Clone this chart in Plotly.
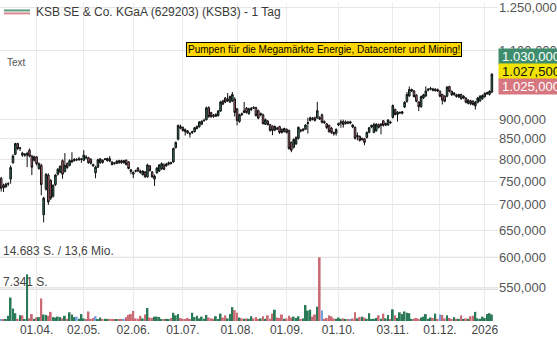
import numpy as np
import pandas as pd
import plotly.graph_objects as go

# ---------------- data ----------------
holidays = ["2025-04-18", "2025-04-21", "2025-05-01", "2025-12-24",
            "2025-12-25", "2025-12-26", "2025-12-31", "2026-01-01"]
dates = pd.bdate_range("2025-03-11", "2026-01-07", freq="C", holidays=holidays)

tick_dates = ["2025-04-01", "2025-05-02", "2025-06-02", "2025-07-01", "2025-08-01",
              "2025-09-01", "2025-10-01", "2025-11-03", "2025-12-01", "2026-01-02"]
tick_labels = ["01.04.", "02.05.", "02.06.", "01.07.", "01.08.",
               "01.09.", "01.10.", "03.11.", "01.12.", "2026"]

price_ticks = [550, 600, 650, 700, 750, 800, 850, 900, 1100, 1250]

open_ = [757, 742, 738, 744, 755, 792, 812, 838, 826, 815,
         810, 810, 822, 808, 798, 806, 779, 786, 680, 733,
         764, 752, 718, 743, 766, 771, 797, 772, 790, 786,
         794, 797, 800, 799, 800, 798, 806, 804, 800, 788,
         769, 782, 792, 798, 800, 797, 802, 794, 792, 791,
         797, 797, 792, 798, 794, 776, 770, 774, 780, 773,
         765, 771, 760, 785, 771, 755, 769, 773, 778, 787,
         785, 789, 792, 794, 828, 849, 881, 879, 873, 870,
         864, 866, 868, 876, 881, 887, 896, 899, 931, 918,
         911, 908, 910, 922, 950, 958, 950, 947, 950, 955,
         928, 894, 915, 918, 930, 915, 926, 932, 931, 923,
         912, 912, 887, 895, 886, 882, 872, 877, 881, 874,
         868, 874, 871, 841, 829, 837, 851, 872, 871, 874,
         889, 897, 903, 904, 904, 904, 912, 894, 888, 884,
         877, 866, 864, 885, 890, 894, 889, 893, 890, 885,
         879, 855, 856, 848, 850, 853, 866, 880, 866, 870,
         886, 884, 896, 885, 885, 893, 905, 926, 913, 917,
         916, 933, 948, 964, 978, 978, 966, 947, 934, 958,
         964, 980, 983, 984, 979, 982, 977, 968, 963, 963,
         991, 977, 968, 967, 961, 968, 958, 958, 943, 950,
         949, 936, 946, 950, 956, 962, 970, 968, 975]

high = [760, 745, 747, 748, 786, 812, 840, 840, 830, 818,
        815, 818, 826, 810, 809, 808, 793, 790, 717, 768,
        768, 755, 744, 766, 780, 786, 800, 815, 793, 800,
        817, 803, 803, 806, 803, 822, 810, 806, 803, 790,
        785, 802, 803, 800, 803, 804, 808, 796, 794, 798,
        799, 799, 799, 800, 796, 778, 772, 776, 782, 776,
        775, 773, 790, 787, 773, 765, 782, 789, 793, 791,
        792, 795, 795, 828, 843, 886, 886, 881, 876, 872,
        866, 870, 880, 884, 895, 897, 902, 934, 935, 920,
        914, 916, 925, 950, 953, 961, 972, 965, 975, 960,
        930, 915, 918, 947, 933, 931, 933, 935, 934, 926,
        918, 915, 902, 898, 888, 884, 884, 880, 883, 876,
        878, 876, 873, 843, 851, 856, 881, 875, 877, 887,
        904, 907, 906, 907, 947, 908, 915, 897, 890, 886,
        880, 868, 876, 891, 899, 899, 897, 896, 896, 887,
        881, 866, 858, 853, 852, 868, 880, 886, 891, 890,
        889, 890, 898, 891, 900, 896, 940, 929, 922, 921,
        922, 949, 975, 991, 985, 981, 969, 949, 965, 970,
        991, 986, 990, 987, 986, 985, 980, 970, 966, 992,
        993, 979, 975, 970, 970, 970, 966, 960, 955, 953,
        952, 950, 961, 966, 968, 974, 976, 980, 1030]

low = [728, 727, 736, 740, 745, 790, 810, 822, 820, 806,
       806, 782, 805, 764, 795, 786, 776, 720, 665, 730,
       700, 710, 715, 740, 763, 768, 756, 770, 778, 784,
       792, 795, 796, 797, 792, 796, 800, 790, 788, 783,
       757, 780, 790, 790, 798, 795, 794, 786, 788, 789,
       790, 790, 790, 786, 777, 766, 757, 770, 771, 767,
       763, 758, 758, 772, 758, 740, 767, 771, 776, 775,
       783, 786, 788, 792, 826, 846, 874, 868, 858, 862,
       853, 862, 866, 874, 878, 885, 894, 897, 904, 904,
       904, 906, 907, 920, 938, 944, 947, 944, 947, 907,
       884, 891, 909, 916, 915, 912, 922, 928, 907, 900,
       908, 886, 885, 884, 868, 859, 869, 872, 862, 863,
       866, 863, 823, 817, 826, 835, 848, 866, 868, 872,
       863, 894, 897, 894, 901, 898, 889, 888, 875, 865,
       862, 858, 858, 882, 878, 878, 886, 887, 887, 877,
       848, 846, 843, 845, 834, 851, 864, 877, 864, 868,
       876, 861, 881, 882, 883, 888, 902, 910, 894, 914,
       913, 930, 945, 961, 975, 959, 946, 922, 931, 955,
       961, 977, 980, 977, 976, 975, 960, 940, 946, 960,
       974, 964, 964, 959, 958, 953, 955, 943, 940, 938,
       937, 926, 943, 947, 953, 959, 967, 965, 972]

close = [735, 736, 744, 745, 781, 808, 838, 826, 827, 810,
         812, 814, 808, 782, 806, 790, 790, 743, 714, 766,
         706, 714, 741, 764, 777, 784, 766, 786, 781, 797,
         798, 800, 799, 801, 801, 810, 804, 792, 791, 785,
         782, 799, 801, 793, 801, 802, 796, 788, 790, 796,
         792, 792, 797, 788, 779, 772, 766, 773, 773, 770,
         773, 760, 787, 774, 760, 762, 780, 787, 790, 777,
         789, 792, 791, 826, 841, 884, 877, 871, 868, 865,
         862, 868, 878, 881, 893, 895, 897, 931, 907, 907,
         908, 913, 922, 947, 941, 947, 955, 962, 968, 918,
         897, 912, 912, 923, 918, 928, 929, 930, 910, 903,
         915, 889, 899, 886, 871, 871, 881, 875, 866, 866,
         876, 866, 826, 822, 848, 853, 879, 870, 874, 885,
         891, 904, 900, 897, 923, 901, 892, 891, 878, 868,
         866, 862, 874, 889, 893, 886, 893, 890, 893, 880,
         851, 858, 846, 850, 841, 866, 878, 884, 886, 887,
         879, 887, 884, 889, 898, 891, 937, 913, 919, 918,
         920, 946, 968, 982, 982, 962, 949, 934, 962, 967,
         978, 983, 985, 980, 983, 978, 963, 952, 949, 989,
         977, 967, 972, 962, 968, 956, 963, 946, 952, 942,
         940, 946, 958, 963, 965, 971, 973, 977, 1027.5]

volume = [300, 250, 300, 1200, 5400, 2900, 1800, 500, 1300, 1300,
          400, 10750, 600, 1600, 500, 800, 900, 5200, 1500, 1400,
          1200, 2100, 900, 800, 1000, 900, 600, 1200, 500, 2000,
          1500, 900, 1000, 500, 1600, 600, 400, 2200, 500, 700,
          1100, 400, 800, 300, 500, 400, 500, 300, 400, 300,
          400, 300, 500, 900, 1400, 1600, 2300, 600, 500, 1200,
          600, 1500, 3000, 800, 700, 1000, 1000, 900, 400, 400,
          500, 300, 700, 1900, 1300, 1600, 700, 500, 400, 700,
          300, 1900, 900, 1200, 600, 1000, 500, 1400, 800, 600,
          500, 1100, 400, 1700, 800, 1300, 600, 1600, 3200, 2500,
          1900, 800, 600, 500, 600, 500, 1100, 600, 900, 500,
          600, 1100, 500, 1300, 500, 1700, 2600, 800, 700, 1500,
          500, 600, 1200, 800, 1000, 700, 1100, 400, 600, 3700,
          2400, 2600, 1000, 1500, 3300, 14683, 2400, 500, 700, 1300,
          1100, 600, 500, 800, 500, 600, 300, 400, 300, 600,
          2000, 600, 900, 1000, 800, 500, 1800, 400, 500, 700,
          1300, 500, 1700, 600, 1400, 400, 2700, 1300, 700, 2000,
          1600, 2200, 1900, 1800, 500, 600, 700, 500, 800, 1000,
          1600, 500, 800, 700, 1700, 500, 1500, 1400, 600, 1300,
          700, 400, 900, 500, 500, 1300, 400, 600, 500, 1100,
          1200, 2100, 600, 500, 1000, 700, 1600, 1800, 1500]

unchanged_days = [0, 32, 40, 52, 136, 148, 186]   # blue volume bars
turnover_mio = 13.6
last_quotes = [1030.0, 1027.5, 1025.0]            # ask / last / bid
box_start_day = 170
box_low, box_high = 922, 994
title = "KSB SE & Co. KGaA (629203) (KSB3) - 1 Tag"
note = "Pumpen für die Megamärkte Energie, Datacenter und Mining!"

# ---------------- helpers ----------------
def de(v, d=3):
    s = f"{v:,.{d}f}"
    return s.replace(",", "_").replace(".", ",").replace("_", ".")

FONT = "Liberation Sans, Arial, sans-serif"
GREEN, RED, BLUE = "#2e8463", "#d7737e", "#6f9de0"
VGREEN, VRED = "#2b7a57", "#c96a75"

x = np.arange(len(dates))
tickvals = [dates.get_loc(pd.Timestamp(d)) for d in tick_dates]
vcol = []
for i in range(len(x)):
    if i in unchanged_days:
        vcol.append(BLUE)
    elif close[i] >= open_[i]:
        vcol.append(VGREEN)
    else:
        vcol.append(VRED)

W, H = 557, 340
ML, MR, MT, MB = 0, 44, 0, 19
PW, PH = W - ML - MR, H - MT - MB

def px(xp):
    return xp / PW

def py(yp):
    return 1 - yp / PH

fig = go.Figure()
fig.add_trace(go.Bar(x=x, y=volume, marker=dict(color=vcol, line=dict(width=0)),
                     width=0.8, yaxis="y2", hoverinfo="skip", showlegend=False))
fig.add_trace(go.Candlestick(
    x=x, open=open_, high=high, low=low, close=close,
    increasing=dict(line=dict(color="#111111", width=1), fillcolor=GREEN),
    decreasing=dict(line=dict(color="#111111", width=1), fillcolor=RED),
    whiskerwidth=0, showlegend=False, hoverinfo="skip"))

vmax = max(volume)
vhalf = vmax // 2
shapes = [
    dict(type="rect", xref="x", yref="y", x0=box_start_day - 0.5, x1=len(x) + 2,
         y0=np.log10(box_low), y1=np.log10(box_high),
         fillcolor="#efefef", line=dict(width=0), layer="between"),
    dict(type="line", xref="x", yref="y", x0=box_start_day - 0.5, x1=len(x) + 2,
         y0=np.log10(box_high), y1=np.log10(box_high),
         line=dict(color="#7a7a7a", width=1.5), layer="between"),
    dict(type="line", xref="x", yref="y", x0=box_start_day - 0.5, x1=len(x) + 2,
         y0=np.log10(box_low), y1=np.log10(box_low),
         line=dict(color="#7a7a7a", width=1.5), layer="between"),
    dict(type="line", xref="paper", yref="y2", x0=0, x1=1, y0=vmax, y1=vmax,
         line=dict(color="#cfcfcf", width=1), layer="between"),
    dict(type="line", xref="paper", yref="y2", x0=0, x1=1, y0=vhalf, y1=vhalf,
         line=dict(color="#cfcfcf", width=1), layer="between"),
    dict(type="line", xref="paper", yref="paper", x0=px(4), x1=px(31), y0=py(7.5), y1=py(7.5),
         line=dict(color="#5e9e80", width=2)),
    dict(type="line", xref="paper", yref="paper", x0=px(4), x1=px(31), y0=py(10.5), y1=py(10.5),
         line=dict(color="#d98890", width=2)),
]

ann = [
    dict(text=title, x=px(35), y=py(9), xref="paper", yref="paper", xanchor="left",
         yanchor="middle", showarrow=False, font=dict(size=12, color="#3a3a3a", family=FONT)),
    dict(text="Text", x=px(5), y=py(60), xref="paper", yref="paper", xanchor="left",
         yanchor="middle", showarrow=False, font=dict(size=10, color="#555555", family=FONT)),
    dict(text=note, x=px(192), y=py(46.5), xref="paper", yref="paper", xanchor="left",
         yanchor="middle", showarrow=False, bgcolor="#ffd700", bordercolor="#000000",
         borderwidth=1, borderpad=1, font=dict(size=10, color="#000000", family=FONT)),
    dict(text=f"{de(vmax, 0)} S. / {de(turnover_mio, 1)} Mio.", x=px(1), y=py(250),
         xref="paper", yref="paper", xanchor="left", yanchor="middle", showarrow=False,
         font=dict(size=12, color="#444444", family=FONT)),
    dict(text=f"{de(vhalf, 0)} S.", x=px(1), y=py(282), xref="paper", yref="paper",
         xanchor="left", yanchor="middle", showarrow=False,
         font=dict(size=12, color="#444444", family=FONT)),
]
box_styles = [("#3e8e6e", "#ffffff", 54.5), ("#f0e400", "#111111", 69.5), ("#d6777f", "#ffffff", 84.5)]
for q, (bg, fg, yc) in zip(last_quotes, box_styles):
    ann.append(dict(text=de(q, 3), x=1, y=py(yc), xref="paper", yref="paper",
                    xanchor="left", yanchor="middle", showarrow=False, bgcolor=bg,
                    width=64, height=15, align="center", borderpad=0, xshift=0,
                    font=dict(size=13, color=fg, family=FONT)))

fig.update_layout(
    width=W, height=H, margin=dict(l=ML, r=MR, t=MT, b=MB, pad=0),
    plot_bgcolor="white", paper_bgcolor="white", separators=",.",
    showlegend=False, bargap=0.2, boxgap=0.05,
    font=dict(family=FONT),
    xaxis=dict(range=[-0.5, 210.6], tickvals=tickvals, ticktext=tick_labels,
               showgrid=True, gridcolor="#ebebeb", gridwidth=1, zeroline=False,
               showline=False, ticks="", rangeslider=dict(visible=False),
               tickfont=dict(size=12, color="#444444", family=FONT)),
    yaxis=dict(type="log", range=[2.69705, 3.1025], side="right", tickvals=price_ticks,
               tickformat=",.3f", showgrid=True, gridcolor="#e6e6e6", zeroline=False,
               showline=False, ticks="", ticklabeloverflow="allow",
               tickfont=dict(size=13, color="#555555", family=FONT)),
    yaxis2=dict(overlaying="y", range=[0, 73300], visible=False, showgrid=False),
    shapes=shapes, annotations=ann,
)

fig.write_html("out.html")
